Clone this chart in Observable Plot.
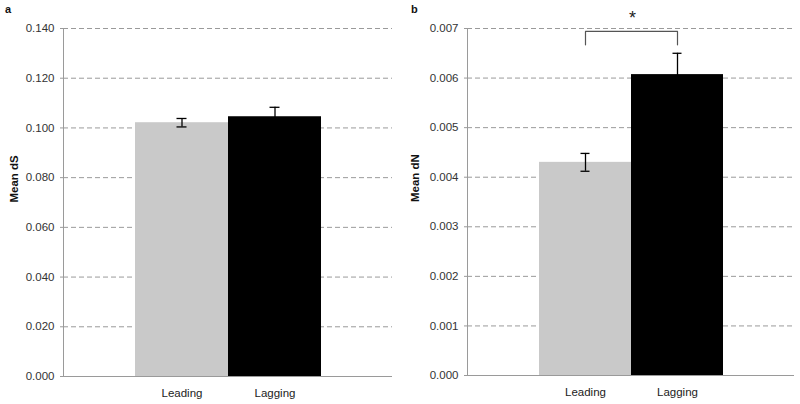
<!DOCTYPE html>
<html>
<head>
<meta charset="utf-8">
<script src="https://cdn.jsdelivr.net/npm/d3@7"></script>
<script src="https://cdn.jsdelivr.net/npm/@observablehq/plot@0.6"></script>
<style>
  html, body { margin: 0; padding: 0; background: white; }
  #wrap { position: relative; width: 800px; height: 404px; display: flex; font-family: "Liberation Sans", Arial, Helvetica, sans-serif; }
  .panel-letter { position: absolute; font-weight: bold; font-size: 11px; color: #111; }
</style>
</head>
<body>
<div id="wrap">
  <span class="panel-letter" style="left:5px; top:3px;">a</span>
  <span class="panel-letter" style="left:411px; top:3px;">b</span>
</div>
<script>
// Categories
const categories = ["Leading", "Lagging"];

// Panel a: Mean dS
const meanDS = [0.1021, 0.1045];
const errDS = [0.0017, 0.0038];
const ticksDS = [0, 0.02, 0.04, 0.06, 0.08, 0.10, 0.12, 0.14];

// Panel b: Mean dN
const meanDN = [0.0043, 0.00607];
const errDN = [0.00018, 0.00043];
const ticksDN = [0, 0.001, 0.002, 0.003, 0.004, 0.005, 0.006, 0.007];

// Significance bracket (panel b)
const bracketCats = ["Leading", "Leading", "Lagging", "Lagging"];
const bracketY = [0.00667, 0.00694, 0.00694, 0.00667];
const starY = 0.00721;
const starLabel = "*";

const colors = ["#c9c9c9", "#000000"];
const font = "'Liberation Sans', Arial, Helvetica, sans-serif";

function panel({values, errs, ticks, label, ml, mr, mb, labelDx, extra = []}) {
  const data = categories.map((c, i) => ({cat: c, v: values[i], e: errs[i]}));
  return Plot.plot({
    width: 400,
    height: 404,
    marginLeft: ml,
    marginRight: mr,
    marginTop: 28,
    marginBottom: mb,
    style: {fontFamily: font, fontSize: "11px", color: "#333", background: "white", overflow: "visible"},
    x: {domain: categories, paddingInner: 0, paddingOuter: 0.76, label: null},
    y: {domain: [0, ticks[ticks.length - 1]], label: null},
    color: {domain: categories, range: colors},
    marks: [
      Plot.ruleY(ticks.slice(1), {stroke: "#9a9a9a", strokeDasharray: "5,3"}),
      Plot.barY(data, {x: "cat", y: "v", fill: "cat"}),
      Plot.ruleX(data, {x: "cat", y1: d => d.v - d.e, y2: d => d.v + d.e, stroke: "#000", strokeWidth: 1.3}),
      Plot.tickY(data, {x: "cat", y: d => d.v + d.e, stroke: "#000", strokeWidth: 1.3, insetLeft: 41.5, insetRight: 41.5}),
      Plot.tickY(data, {x: "cat", y: d => d.v - d.e, stroke: "#000", strokeWidth: 1.3, insetLeft: 41.5, insetRight: 41.5}),
      Plot.ruleY([0], {stroke: "#9a9a9a", strokeWidth: 1}),
      Plot.frame({anchor: "left", stroke: "#9a9a9a"}),
      Plot.axisY({ticks, tickFormat: d3.format(".3f"), tickSize: 3, tickPadding: 6, fontSize: 11.5, stroke: "#9a9a9a", fill: "#333", label: null}),
      Plot.axisX({tickSize: 0, tickPadding: 12, fontSize: 11.5, fill: "#222", label: null}),
      Plot.text([label], {text: d => d, frameAnchor: "left", rotate: -90, dx: labelDx, fontWeight: "bold", fontSize: 11.5, fill: "#111"}),
      ...extra
    ]
  });
}

const wrap = document.getElementById("wrap");

wrap.appendChild(panel({
  values: meanDS, errs: errDS, ticks: ticksDS, label: "Mean dS",
  ml: 63, mr: 8, mb: 28, labelDx: -49
}));

const bracket = bracketCats.map((c, i) => ({cat: c, y: bracketY[i]}));
wrap.appendChild(panel({
  values: meanDN, errs: errDN, ticks: ticksDN, label: "Mean dN",
  ml: 67, mr: 6, mb: 29, labelDx: -52,
  extra: [
    Plot.line(bracket, {x: "cat", y: "y", stroke: "#555", strokeWidth: 1.2}),
    Plot.text([{cat: "Leading", y: starY}], {x: "cat", y: "y", text: () => starLabel, dx: 47, fontSize: 18, fill: "#222"})
  ]
}));
</script>
</body>
</html>
